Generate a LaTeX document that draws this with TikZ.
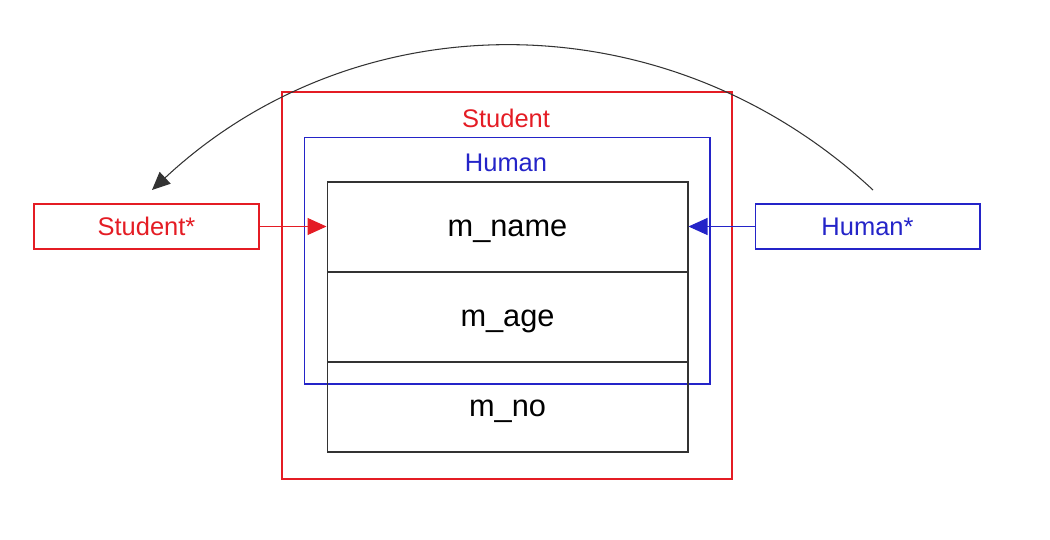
\documentclass[tikz,border=0pt]{standalone}
\usepackage{fontspec}
\setmainfont{Liberation Sans}
\usepackage{tikz}
\usetikzlibrary{arrows.meta,positioning}

\definecolor{stured}{RGB}{228,28,36}
\definecolor{humblue}{RGB}{36,36,200}

\tikzset{
  field/.style={draw=black!80, minimum width=7.22cm, minimum height=1.8cm, inner sep=0pt, text height=11.3pt, text depth=0pt, font=\fontsize{17.5}{20}\selectfont},
  ptrbox/.style={draw, minimum width=4.5cm, minimum height=0.9cm, inner sep=0pt, font=\fontsize{14.5}{17}\selectfont},
  tag/.style={font=\fontsize{14.5}{17}\selectfont, inner sep=0pt},
  ptr/.style={-{Triangle[length=0.38cm,width=0.34cm]}, line width=0.6pt}
}

\begin{document}
\begin{tikzpicture}[x=0.02cm,y=-0.02cm, line width=0.6pt]
    \useasboundingbox (0,0) rectangle (1050,539);

    % object boxes
    \node[draw=stured, line width=0.7pt, minimum width=9cm, minimum height=7.74cm, inner sep=0pt] (stuobj) at (507,285.5) {};
    \node[draw=humblue, minimum width=8.12cm, minimum height=4.94cm, inner sep=0pt] (humobj) at (507,260.5) {};
    \node[tag, text=stured] (stulabel) at (506,118) {Student};
    \node[tag, text=humblue] (humlabel) at (506,163) {Human};

    % members
    \node[field] (name) at (507.5,227) {m\_name};
    \node[field] (age) at (507.5,317) {m\_age};
    \node[field] (no) at (507.5,407) {m\_no};

    % pointers
    \node[ptrbox, draw=stured, text=stured] (stuptr) at (146.5,226.5) {Student*};
    \node[ptrbox, draw=humblue, text=humblue] (humptr) at (867.5,226.5) {Human*};
    \draw[ptr, stured] (stuptr) -- (stuptr -| name.west);
    \draw[ptr, humblue] (humptr) -- (humptr -| name.east);

    %cast
    \coordinate (castfrom) at (873,190);
    \coordinate (castto) at (152,190);
    \draw[-{Triangle[length=0.36cm,width=0.32cm]}, black!80] (castfrom) to[bend right=43] (castto);
\end{tikzpicture}
\end{document}
